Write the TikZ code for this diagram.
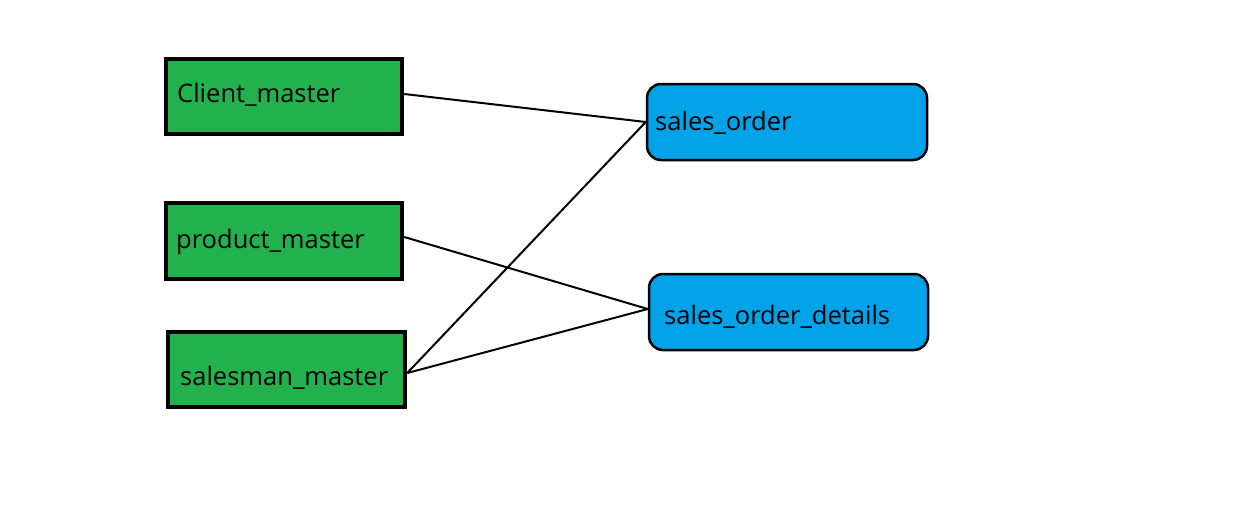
\documentclass[tikz,border=0pt]{standalone}
\usepackage{fontspec}
\setmainfont{Open Sans}
\definecolor{pgreen}{HTML}{22B14C}
\definecolor{pblue}{HTML}{00A2E8}
\begin{document}
\begin{tikzpicture}[x=1pt,y=-1pt,
  gbox/.style={draw=black, line width=4.5pt, fill=pgreen, rectangle, inner sep=0pt},
  bbox/.style={draw=black, line width=2.5pt, fill=pblue, rectangle, rounded corners=14pt, inner sep=0pt},
  lbl/.style={anchor=base west, inner sep=0pt, font=\fontsize{25.5}{28}\selectfont, text=black},
  conn/.style={draw=black, line width=2pt}]
\useasboundingbox[fill=white] (0,0) rectangle (1253,517);
% green boxes
\node[gbox, minimum width=236pt, minimum height=75pt] (cm) at (284,96.5) {};
\node[gbox, minimum width=236pt, minimum height=76pt] (pm) at (284,241) {};
\node[gbox, minimum width=237pt, minimum height=75pt] (sm) at (286.5,369.5) {};
% blue boxes
\node[bbox, minimum width=280pt, minimum height=76pt] (so) at (787,122) {};
\node[bbox, minimum width=279pt, minimum height=76pt] (sod) at (788.5,312) {};
% labels
\node[lbl] (cmt) at (177,102) {Client\_master};
\node[lbl] (pmt) at (176,248) {product\_master};
\node[lbl] (smt) at (180,385) {salesman\_master};
\node[lbl] (sot) at (655,130) {sales\_order};
\node[lbl] (sodt) at (664,324) {sales\_order\_details};
% connectors
\draw[conn] ([yshift=2.5pt]cm.east) -- (so.west);
\draw[conn] ([yshift=4pt]pm.east) -- ([yshift=3pt]sod.west);
\draw[conn] ([yshift=-3.5pt]sm.east) -- (so.west);
\draw[conn] ([yshift=-3.5pt]sm.east) -- ([yshift=3pt]sod.west);
\end{tikzpicture}
\end{document}
